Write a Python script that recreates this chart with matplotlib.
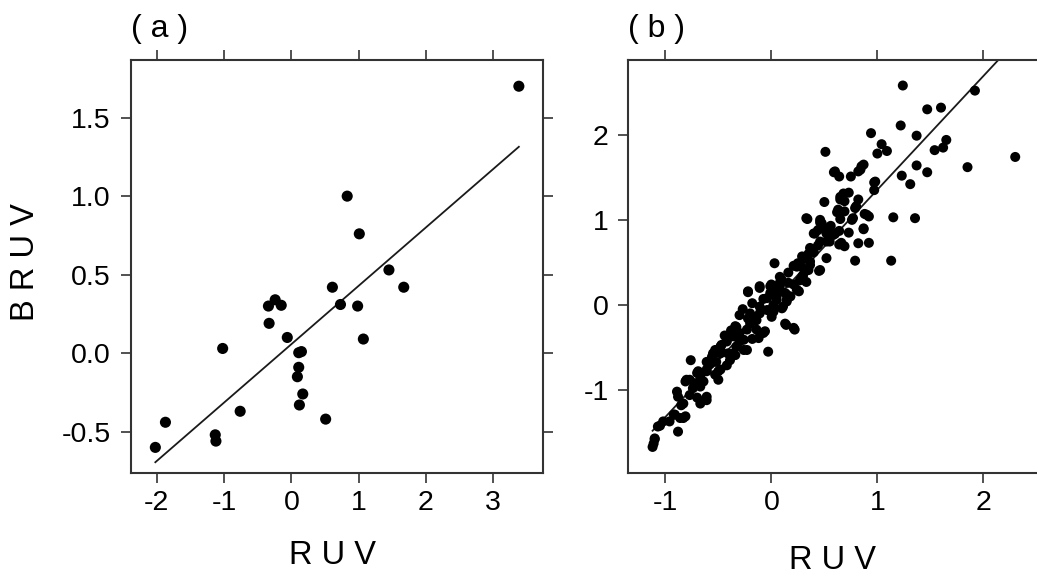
import matplotlib
matplotlib.use("Agg")
import matplotlib.pyplot as plt
import numpy as np

plt.rcParams['font.family'] = ['Liberation Sans', 'DejaVu Sans']
plt.rcParams['axes.unicode_minus'] = False

# ---------------- data ----------------
# panel (a)
ruv_a = [-2.02, -1.87, -1.13, -1.12, -1.02, -0.76, -0.34, -0.24, -0.15, -0.33,
         -0.06, 0.11, 0.15, 0.11, 0.09, 0.17, 0.12, 0.51, 0.61, 0.73,
         0.985, 1.07, 0.83, 1.01, 1.45, 1.67, 3.38]
bruv_a = [-0.60, -0.44, -0.52, -0.56, 0.03, -0.37, 0.30, 0.34, 0.305, 0.19,
          0.10, 0.003, 0.01, -0.09, -0.15, -0.26, -0.33, -0.42, 0.42, 0.31,
          0.30, 0.09, 1.00, 0.76, 0.53, 0.42, 1.70]
fit_a = (0.372, 0.057)   # slope, intercept

# panel (b)
pts_b = [
    (1.24, 2.58), (1.92, 2.52), (1.47, 2.30), (1.60, 2.32), (1.22, 2.11), (0.94, 2.02),
    (1.37, 1.99), (1.65, 1.94), (1.62, 1.85), (1.54, 1.82), (2.30, 1.74), (1.85, 1.62),
    (1.37, 1.64), (1.47, 1.56), (1.23, 1.52), (1.31, 1.42), (1.04, 1.89), (1.00, 1.78),
    (1.09, 1.81), (0.51, 1.80), (0.59, 1.56), (0.64, 1.51), (0.75, 1.51), (0.85, 1.63),
    (0.82, 1.57), (0.97, 1.44), (0.97, 1.35), (0.73, 1.32), (0.65, 1.27), (0.82, 1.24),
    (0.50, 1.21), (0.69, 1.22), (0.80, 1.16), (0.62, 1.09), (0.69, 1.10), (0.88, 1.07),
    (0.92, 1.04), (0.77, 1.02), (0.65, 1.01), (1.15, 1.03), (1.355, 1.02), (0.34, 1.01),
    (0.46, 0.97), (0.87, 0.89), (0.51, 0.90), (0.56, 0.93), (0.40, 0.84), (0.52, 0.84),
    (0.60, 0.835), (0.73, 0.85), (0.46, 0.745), (0.55, 0.745), (0.64, 0.71), (0.69, 0.69),
    (0.82, 0.725), (0.92, 0.73), (0.52, 0.55), (0.79, 0.52), (1.13, 0.52), (0.45, 0.40),
    (0.03, 0.49),
    (0.60, 1.57), (0.87, 1.65), (0.84, 1.59), (0.98, 1.45), (0.68, 1.31), (0.65, 1.24),
    (0.63, 1.12), (0.79, 1.14), (0.90, 1.06), (0.33, 1.02), (0.46, 1.00), (0.76, 1.00),
    (0.87, 0.90), (0.44, 0.88), (0.55, 0.88), (0.64, 0.87),
    (0.365, 0.67), (0.35, 0.60), (0.30, 0.54), (0.25, 0.49), (0.21, 0.46), (0.16, 0.38),
    (0.365, 0.51), (0.35, 0.41), (0.30, 0.35), (0.27, 0.29), (0.24, 0.18), (0.10, 0.29),
    (0.08, 0.22), (-0.01, 0.22), (-0.11, 0.20), (-0.22, 0.15), (0.13, 0.14), (0.05, 0.10),
    (0.145, 0.06), (-0.075, 0.07), (0.02, 0.00), (0.10, -0.04), (-0.04, -0.06), (-0.11, -0.10),
    (0.003, -0.14), (0.14, -0.235), (0.22, -0.29), (-0.15, -0.16), (-0.22, -0.16), (-0.30, -0.12),
    (-0.20, -0.22), (-0.14, -0.29), (-0.075, -0.33), (-0.12, -0.39), (-0.03, -0.55),
    (0.475, 0.96), (0.41, 0.84), (0.55, 0.86), (0.52, 0.745), (0.66, 0.73), (0.29, 0.57),
    (0.365, 0.47), (0.24, 0.45), (0.46, 0.41), (0.29, 0.33), (0.08, 0.26), (0.21, 0.24),
    (0.33, 0.27), (-0.01, 0.14), (0.145, 0.12), (0.26, 0.16),
    (-0.22, 0.16), (-0.11, 0.22), (0.00, 0.24), (0.08, 0.33), (0.16, 0.26), (-0.04, 0.08),
    (0.05, 0.06), (0.145, 0.04), (-0.11, -0.02), (0.02, -0.08), (0.11, -0.02), (-0.20, -0.10),
    (-0.14, -0.18), (-0.33, -0.26), (-0.23, -0.29), (-0.06, -0.31), (-0.42, -0.41),
    (-0.30, -0.43), (-0.48, -0.53), (-0.36, -0.57), (-0.23, -0.53), (-0.55, -0.67),
    (-0.42, -0.71), (0.13, -0.22), (0.21, -0.27),
    (-0.34, -0.25), (-0.30, -0.33), (-0.26, -0.41), (-0.36, -0.37), (-0.42, -0.43),
    (-0.47, -0.47), (-0.33, -0.49), (-0.26, -0.53), (-0.34, -0.59), (-0.41, -0.57),
    (-0.48, -0.57), (-0.53, -0.53), (-0.56, -0.61), (-0.52, -0.67), (-0.61, -0.67),
    (-0.76, -0.65), (-0.50, -0.78), (-0.53, -0.82), (-0.50, -0.88), (-0.61, -0.76),
    (-0.69, -0.78), (-0.67, -0.84), (-0.77, -0.88), (-0.81, -0.90), (-0.74, -0.98),
    (-0.67, -0.96), (-0.77, -1.06), (-0.70, -1.09), (-0.67, -1.16), (-0.61, -1.12),
    (-0.89, -1.02), (-0.88, -1.08), (-0.85, -1.18), (-0.91, -1.29), (-0.86, -1.33),
    (-0.81, -1.31), (-0.88, -1.49), (-0.96, -1.37), (-1.02, -1.37), (-1.05, -1.42),
    (-1.10, -1.58), (-1.12, -1.67), (-1.11, -1.63),
    (-0.55, -0.57), (-0.48, -0.49), (-0.39, -0.65), (-0.48, -0.76), (-0.61, -0.78),
    (-0.70, -0.80), (-0.80, -0.88), (-0.61, -1.08), (-0.83, -1.16), (-0.92, -1.29),
    (-0.83, -1.33), (-1.07, -1.43), (-1.10, -1.57),
    (-0.18, 0.02), (-0.27, -0.05), (-0.38, -0.30), (-0.44, -0.36), (-0.58, -0.70),
    (-0.64, -0.90), (-0.72, -0.92), (-0.18, -0.40), (0.18, 0.10), (0.28, 0.45),
    (0.40, 0.62), (0.44, 0.70), (0.58, 0.82), (0.05, 0.18),
]
ruv_b = [p[0] for p in pts_b]
bruv_b = [p[1] for p in pts_b]
fit_b = (1.337, 0.018)

xticks_a = [-2, -1, 0, 1, 2, 3]
yticks_a = [-0.5, 0.0, 0.5, 1.0, 1.5]
xticks_b = [-1, 0, 1, 2]
yticks_b = [-1, 0, 1, 2]

# ---------------- figure ----------------
W, H = 1037, 575
fig = plt.figure(figsize=(W / 100, H / 100), dpi=100)

def px_axes(l, r, t, b):
    return [l / W, 1 - b / H, (r - l) / W, (b - t) / H]

ax_a = fig.add_axes(px_axes(130.7, 543.3, 60, 473.3))
ax_b = fig.add_axes(px_axes(628.3, 1039.5, 60, 473.3))

spine_col = '#333333'
tick_fs = 20.5
lab_fs = 23.5

def style(ax, right_ticks):
    for s in ax.spines.values():
        s.set_color(spine_col)
        s.set_linewidth(1.5)
    ax.tick_params(axis='both', direction='out', length=7.2, width=1.2,
                   color=spine_col, labelsize=tick_fs, labelcolor='black')
    ax.tick_params(axis='x', top=True, labeltop=False, pad=5)
    ax.tick_params(axis='y', right=right_ticks, labelright=False, pad=7)

# panel a
ax_a.scatter(ruv_a, bruv_a, s=64, color='black', edgecolors='none', zorder=3)
xl = np.array([min(ruv_a), max(ruv_a)])
ax_a.plot(xl, fit_a[0] * xl + fit_a[1], color='#1a1a1a', lw=1.3, zorder=2)
ax_a.set_xlim(-2.386, 3.743)
ax_a.set_ylim(-0.765, 1.867)
ax_a.set_xticks(xticks_a)
ax_a.set_xticklabels([str(v) for v in xticks_a])
ax_a.set_yticks(yticks_a)
ax_a.set_yticklabels([f"{v:.1f}" for v in yticks_a])
style(ax_a, True)
ax_a.set_xlabel("R U V", fontsize=lab_fs, va='center')
ax_a.xaxis.set_label_coords(0.49, -0.198)
ax_a.set_ylabel("B R U V", fontsize=lab_fs, va='center')
ax_a.yaxis.set_label_coords(-0.256, 0.51)
ax_a.text(0.0, 1.075, "( a )", transform=ax_a.transAxes, fontsize=23,
          ha='left', va='center')

# panel b
ax_b.scatter(ruv_b, bruv_b, s=52, color='black', edgecolors='none', zorder=3)
xl = np.array([min(ruv_b), max(ruv_b)])
ax_b.plot(xl, fit_b[0] * xl + fit_b[1], color='#1a1a1a', lw=1.3, zorder=2)
ax_b.set_xlim(-1.349, 2.529)
ax_b.set_ylim(-1.98, 2.88)
ax_b.set_xticks(xticks_b)
ax_b.set_xticklabels([str(v) for v in xticks_b])
ax_b.set_yticks(yticks_b)
ax_b.set_yticklabels([str(v) for v in yticks_b])
style(ax_b, False)
ax_b.set_xlabel("R U V", fontsize=lab_fs, va='center')
ax_b.xaxis.set_label_coords(0.496, -0.21)
ax_b.text(0.0, 1.075, "( b )", transform=ax_b.transAxes, fontsize=23,
          ha='left', va='center')

fig.savefig("out.png", dpi=100)
